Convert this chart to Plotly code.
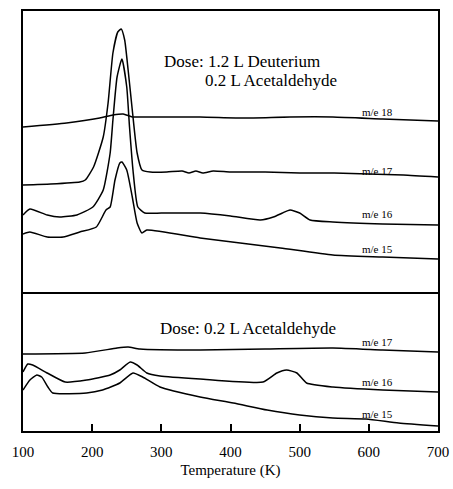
import plotly.graph_objects as go
from plotly.subplots import make_subplots

# ---- Top panel: 1.2 L Deuterium + 0.2 L Acetaldehyde (intensity, a.u.) ----
t18 = [100, 163, 211, 230, 245, 258, 274, 356, 420, 486, 548, 620, 700]
i18 = [167, 171, 176, 179, 180, 177, 177, 177, 176, 177, 177, 175, 173]

t17 = [100, 140, 182, 190, 202, 216, 223, 230, 237, 242, 247, 252, 258, 265, 272, 284,
       308, 330, 340, 350, 360, 375, 400, 450, 500, 550, 600, 650, 700]
i17 = [109, 110, 112, 114, 127, 157, 191, 241, 262, 265, 254, 224, 184, 141, 124, 122,
       122, 123, 121, 123, 121, 123, 122, 122, 121, 121, 120, 119, 117]

t16 = [100, 110, 135, 153, 178, 201, 216, 226, 230, 236, 243, 250, 254, 259, 266, 276,
       300, 356, 400, 443, 462, 475, 486, 500, 515, 548, 620, 700]
i16 = [79, 85, 79, 77, 79, 87, 104, 141, 174, 217, 235, 207, 167, 124, 87, 81,
       81, 81, 78, 74, 77, 81, 84, 81, 74, 72, 70, 69]

t15 = [100, 110, 135, 158, 182, 206, 220, 226, 233, 240, 243, 250, 258, 265, 272, 279,
       356, 472, 548, 620, 700]
i15 = [60, 62, 57, 57, 62, 67, 84, 87, 114, 131, 132, 124, 97, 71, 61, 64,
       56, 46, 39, 37, 35]

# ---- Bottom panel: 0.2 L Acetaldehyde (intensity, a.u.) ----
b17_t = [100, 190, 236, 252, 269, 356, 450, 548, 620, 700]
b17_i = [77, 78, 83, 84, 82, 81, 82, 83, 81, 79]

b16_t = [100, 107, 114, 135, 161, 192, 226, 240, 255, 265, 279, 298, 356, 447, 467,
         481, 496, 510, 548, 620, 700]
b16_i = [59, 67, 66, 58, 49, 51, 56, 61, 69, 66, 58, 55, 52, 49, 58,
         61, 58, 48, 44, 41, 39]

b15_t = [100, 110, 120, 127, 136, 143, 192, 215, 240, 259, 273, 298, 356, 404, 453,
         500, 548, 596, 643, 700]
b15_i = [41, 51, 56, 54, 44, 38, 38, 41, 48, 58, 54, 44, 34, 28, 21,
         16, 13, 12, 8, 5]

xticks = [100, 200, 300, 400, 500, 600, 700]

SERIF = "Liberation Serif"

fig = make_subplots(rows=2, cols=1, shared_xaxes=True, vertical_spacing=0,
                    row_heights=[283, 137])

line = dict(color="black", width=1.5, shape="spline", smoothing=0.5)
for t, i in [(t18, i18), (t17, i17), (t16, i16), (t15, i15)]:
    fig.add_trace(go.Scatter(x=t, y=i, mode="lines", line=line, showlegend=False), row=1, col=1)
for t, i in [(b17_t, b17_i), (b16_t, b16_i), (b15_t, b15_i)]:
    fig.add_trace(go.Scatter(x=t, y=i, mode="lines", line=line, showlegend=False), row=2, col=1)

# labels
top_labels = [("m/e 18", 182), ("m/e 17", 123), ("m/e 16", 80), ("m/e 15", 45)]
for txt, y in top_labels:
    fig.add_annotation(x=612, y=y, text=txt, showarrow=False, xref="x", yref="y",
                       font=dict(family=SERIF, size=11, color="black"))
bot_labels = [("m/e 17", 89), ("m/e 16", 49), ("m/e 15", 17)]
for txt, y in bot_labels:
    fig.add_annotation(x=612, y=y, text=txt, showarrow=False, xref="x2", yref="y2",
                       font=dict(family=SERIF, size=11, color="black"))

fig.add_annotation(x=301, y=233, text="Dose: 1.2 L Deuterium", showarrow=False,
                   xref="x", yref="y", xanchor="left",
                   font=dict(family=SERIF, size=17, color="black"))
fig.add_annotation(x=360, y=214, text="0.2 L Acetaldehyde", showarrow=False,
                   xref="x", yref="y", xanchor="left",
                   font=dict(family=SERIF, size=17, color="black"))
fig.add_annotation(x=295, y=103, text="Dose: 0.2 L Acetaldehyde", showarrow=False,
                   xref="x2", yref="y2", xanchor="left",
                   font=dict(family=SERIF, size=17, color="black"))

axcommon = dict(showline=True, linecolor="black", linewidth=2, mirror=True,
                showgrid=False, zeroline=False, automargin=False)
fig.update_xaxes(range=[100, 700], **axcommon)
# top panel: only its top frame edge (separator drawn by bottom panel)
fig.update_xaxes(showticklabels=False, ticks="", side="top", mirror=False, row=1, col=1)
fig.update_xaxes(tickvals=xticks, ticks="inside", ticklen=7, tickwidth=2, tickcolor="black",
                 ticklabelstandoff=6, ticklabeloverflow="allow",
                 tickfont=dict(family=SERIF, size=15, color="black"),
                 title=dict(text="Temperature (K)", font=dict(family=SERIF, size=15, color="black"),
                            standoff=5),
                 row=2, col=1)
fig.update_yaxes(showticklabels=False, ticks="", **axcommon)
fig.update_yaxes(range=[0, 283], row=1, col=1)
fig.update_yaxes(range=[0, 137], row=2, col=1)

fig.update_layout(width=453, height=489, margin=dict(l=23, r=15, t=11, b=58),
                  paper_bgcolor="white", plot_bgcolor="white")

fig.write_html("out.html")
